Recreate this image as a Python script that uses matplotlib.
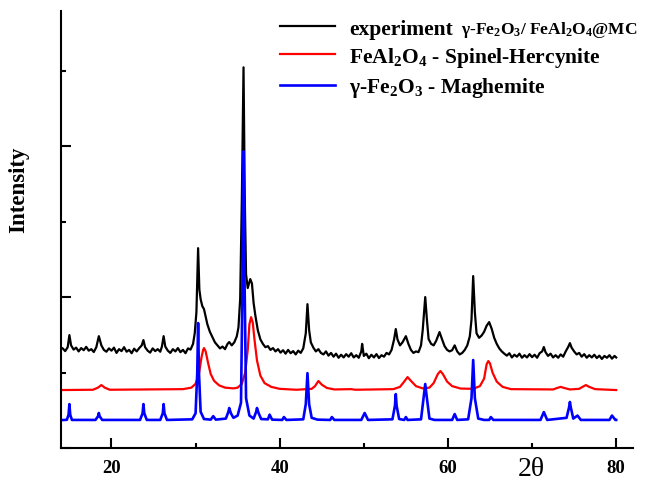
import matplotlib
matplotlib.use('Agg')
import matplotlib.pyplot as plt
from matplotlib.ticker import MultipleLocator

plt.rcParams['font.family'] = 'Liberation Serif'
plt.rcParams['mathtext.fontset'] = 'custom'
plt.rcParams['mathtext.rm'] = 'Liberation Serif:bold'
plt.rcParams['mathtext.it'] = 'Liberation Serif:bold'

# experiment pattern (2theta, intensity a.u.)
exp_x = [14.2, 14.5, 14.8, 15.0, 15.2, 15.5, 15.8, 16.1, 16.4, 16.7, 17.0, 17.3, 17.6, 17.9, 18.2,
         18.5, 18.8, 19.1, 19.4, 19.7, 20.0, 20.3, 20.6, 20.9, 21.2, 21.5, 21.8, 22.1, 22.4, 22.7,
         23.0, 23.3, 23.6, 23.8, 24.0, 24.3, 24.6, 24.9, 25.2, 25.5, 25.8, 26.0, 26.2, 26.4, 26.7,
         27.0, 27.3, 27.6, 27.9, 28.2, 28.5, 28.8, 29.1, 29.4, 29.7, 29.9, 30.1, 30.3, 30.45, 30.6,
         30.8, 31.0, 31.2, 31.4, 31.7, 32.0, 32.3, 32.6, 32.9, 33.2, 33.5, 33.8, 34.0, 34.3, 34.6,
         34.9, 35.1, 35.3, 35.5, 35.7, 35.85, 36.0, 36.2, 36.5, 36.7, 36.9, 37.1, 37.4, 37.7, 38.0,
         38.3, 38.6, 38.9, 39.2, 39.5, 39.8, 40.1, 40.4, 40.7, 41.0, 41.3, 41.6, 41.9, 42.2, 42.5,
         42.8, 43.1, 43.3, 43.5, 43.7, 44.0, 44.3, 44.6, 44.9, 45.2, 45.5, 45.8, 46.1, 46.4, 46.7,
         47.0, 47.3, 47.6, 47.9, 48.2, 48.5, 48.8, 49.1, 49.4, 49.7, 49.8, 50.0, 50.3, 50.6, 50.9,
         51.2, 51.5, 51.8, 52.1, 52.4, 52.7, 53.0, 53.3, 53.6, 53.8, 54.0, 54.3, 54.6, 55.0, 55.3,
         55.6, 55.9, 56.2, 56.5, 56.8, 57.0, 57.3, 57.5, 57.7, 58.0, 58.3, 58.6, 59.0, 59.3, 59.6,
         59.9, 60.2, 60.5, 60.8, 61.1, 61.4, 61.7, 62.0, 62.3, 62.6, 62.8, 63.0, 63.2, 63.4, 63.7,
         64.0, 64.3, 64.6, 64.9, 65.2, 65.5, 65.8, 66.1, 66.4, 66.7, 67.0, 67.3, 67.6, 67.9, 68.2,
         68.5, 68.8, 69.1, 69.4, 69.7, 70.0, 70.3, 70.6, 70.9, 71.2, 71.4, 71.6, 71.9, 72.2, 72.5,
         72.8, 73.1, 73.4, 73.7, 74.0, 74.3, 74.5, 74.7, 75.0, 75.3, 75.6, 75.9, 76.2, 76.5, 76.8,
         77.1, 77.4, 77.7, 78.0, 78.3, 78.6, 78.9, 79.2, 79.5, 79.8, 80.0]
exp_y = [660, 642, 668, 748, 680, 652, 665, 640, 662, 648, 670, 645, 655, 636, 668,
         741, 680, 650, 638, 660, 645, 665, 630, 655, 642, 668, 638, 650, 628, 658,
         640, 662, 680, 715, 668, 645, 632, 660, 642, 655, 638, 672, 741, 672, 645,
         630, 655, 640, 662, 635, 650, 628, 660, 652, 690, 760, 900, 1324, 1050, 986,
         940, 920, 870, 820, 770, 735, 700, 680, 660, 672, 655, 690, 702, 680, 700,
         740, 800, 986, 1650, 2522, 1650, 1150, 1060, 1119, 1090, 960, 880, 780, 720, 690,
         668, 675, 650, 662, 640, 655, 632, 648, 625, 650, 628, 642, 620, 645, 630,
         660, 760, 953, 780, 700, 665, 640, 655, 630, 620, 640, 612, 630, 605, 625,
         598, 618, 600, 622, 605, 628, 600, 615, 598, 640, 690, 610, 625, 595, 618,
         600, 622, 596, 615, 605, 630, 620, 650, 720, 788, 720, 680, 700, 741, 690,
         650, 630, 640, 635, 680, 780, 1000, 850, 722, 690, 680, 710, 768, 720, 675,
         650, 640, 648, 680, 640, 620, 630, 650, 680, 740, 850, 1139, 900, 760, 730,
         745, 770, 810, 834, 790, 730, 690, 660, 640, 625, 612, 628, 600, 618, 605,
         625, 598, 615, 600, 622, 602, 618, 598, 628, 640, 669, 635, 610, 625, 600,
         615, 598, 620, 605, 640, 670, 695, 665, 640, 620, 630, 605, 622, 598, 615,
         600, 618, 596, 612, 590, 610, 598, 615, 592, 610, 600]

# FeAl2O4 hercynite reference
herc_x = [14.0, 17.8, 18.4, 18.8, 19.2, 19.8, 28.5, 29.5, 30.0, 30.4, 30.7, 30.9, 31.0, 31.2,
          31.5, 31.8, 32.2, 32.8, 33.5, 34.5, 35.0, 35.5, 35.9, 36.2, 36.4, 36.6, 36.8, 37.0,
          37.3, 37.7, 38.2, 39.0, 40.0, 42.0, 43.8, 44.2, 44.6, 45.0, 45.6, 46.5, 48.5, 49.0,
          53.5, 54.3, 54.8, 55.2, 55.6, 56.2, 57.0, 57.8, 58.3, 58.8, 59.1, 59.4, 59.9, 60.5,
          61.5, 63.0, 63.8, 64.3, 64.6, 64.8, 65.0, 65.3, 65.8, 66.5, 67.5, 72.5, 73.0, 73.4,
          73.8, 74.5, 75.6, 76.0, 76.4, 76.8, 77.5, 80.0]
herc_y = [384, 386, 400, 417, 400, 386, 390, 400, 425, 490, 600, 650, 662, 640,
          560, 490, 445, 415, 400, 395, 400, 425, 500, 650, 820, 867, 830, 720,
          580, 480, 430, 405, 392, 386, 392, 410, 444, 420, 398, 388, 390, 386,
          390, 405, 440, 470, 445, 410, 395, 400, 430, 490, 510, 490, 440, 410,
          394, 392, 410, 460, 555, 576, 560, 500, 440, 405, 390, 388, 398, 405,
          398, 388, 392, 405, 417, 405, 390, 384]

# gamma-Fe2O3 maghemite reference
magh_x = [14.1, 14.7, 14.9, 15.0, 15.1, 15.3, 18.1, 18.4, 18.5, 18.6, 18.9, 23.4, 23.7, 23.8,
          23.9, 24.2, 25.8, 26.1, 26.2, 26.3, 26.6, 29.6, 30.0, 30.2, 30.3, 30.4, 30.6, 31.0,
          31.8, 32.1, 32.4, 33.6, 33.9, 34.0, 34.2, 34.5, 35.0, 35.4, 35.6, 35.7, 35.8, 36.0,
          36.4, 36.9, 37.2, 37.3, 37.5, 37.8, 38.6, 38.8, 39.1, 40.3, 40.5, 40.8, 42.8, 43.1,
          43.3, 43.5, 43.8, 44.5, 46.0, 46.2, 46.5, 49.7, 50.1, 50.5, 53.4, 53.7, 53.8, 53.9,
          54.2, 54.8, 55.0, 55.2, 56.8, 57.1, 57.3, 57.5, 57.8, 58.4, 60.5, 60.8, 61.1, 62.4,
          62.8, 63.0, 63.2, 63.6, 64.3, 64.9, 65.1, 65.4, 71.0, 71.4, 71.8, 74.1, 74.4, 74.5,
          74.6, 74.9, 75.4, 75.8, 79.2, 79.5, 79.9, 80.0]
magh_y = [185, 187, 220, 291, 220, 186, 186, 210, 232, 210, 186, 186, 230, 291,
          230, 186, 186, 230, 291, 230, 186, 190, 230, 500, 828, 500, 240, 192,
          188, 211, 188, 195, 240, 265, 230, 200, 215, 300, 1200, 1966, 1200, 330,
          215, 195, 240, 265, 230, 192, 190, 221, 188, 186, 205, 186, 190, 290,
          496, 290, 200, 188, 186, 205, 186, 186, 232, 186, 190, 280, 357, 280,
          192, 186, 205, 186, 190, 330, 424, 330, 195, 186, 186, 225, 186, 190,
          330, 583, 330, 195, 186, 186, 205, 186, 186, 238, 186, 200, 270, 305,
          270, 195, 215, 186, 186, 215, 186, 186]


def plot_patterns():
    fig = plt.figure(figsize=(6.6, 4.85), dpi=100)
    ax = fig.add_axes([0.0924, 0.0742, 0.8667, 0.901])

    ax.plot(exp_x, exp_y, color='black', lw=1.6, label='experiment')
    ax.plot(herc_x, herc_y, color='red', lw=1.6,
            label='FeAl$_2$O$_4$ - Spinel-Hercynite')
    ax.plot(magh_x, magh_y, color='blue', lw=1.9,
            label='\u03b3-Fe$_2$O$_3$ - Maghemite')

    ax.set_xlim(14, 82)
    ax.set_ylim(0, 2895)
    ax.xaxis.set_major_locator(MultipleLocator(20))
    ax.xaxis.set_minor_locator(MultipleLocator(10))
    ax.yaxis.set_major_locator(MultipleLocator(1000))
    ax.yaxis.set_minor_locator(MultipleLocator(500))
    ax.set_yticklabels([])
    ax.tick_params(which='major', direction='in', length=7, width=1.5)
    ax.tick_params(which='minor', direction='in', length=3.5, width=1.5)
    ax.tick_params(axis='x', labelsize=13.5, pad=8)
    for lab in ax.get_xticklabels():
        lab.set_fontweight('bold')
    for side in ['top', 'right']:
        ax.spines[side].set_visible(False)
    for side in ['left', 'bottom']:
        ax.spines[side].set_linewidth(1.5)

    ax.set_ylabel('Intensity', fontsize=16.5, fontweight='bold')
    ax.yaxis.set_label_coords(-0.055, 0.593)
    ax.text(0.823, -0.048, '2\u03b8', transform=ax.transAxes, fontsize=20,
            ha='center', va='center')

    leg = ax.legend(loc='upper left', bbox_to_anchor=(0.383, 0.983), frameon=False,
                    prop={'family': 'Liberation Serif', 'weight': 'bold', 'size': 15.5},
                    handlelength=2.55, handletextpad=0.65, labelspacing=0.3,
                    borderpad=0, borderaxespad=0)
    fig.canvas.draw()
    ax.annotate('\u03b3-Fe$_2$O$_3$/ FeAl$_2$O$_4$@MC', xy=(1, 0),
                xycoords=leg.get_texts()[0], xytext=(6, 0), textcoords='offset points',
                fontsize=12.5, fontweight='bold', va='bottom', zorder=10)

    fig.savefig('out.png', dpi=100)


def main():
    plot_patterns()


if __name__ == '__main__':
    main()
